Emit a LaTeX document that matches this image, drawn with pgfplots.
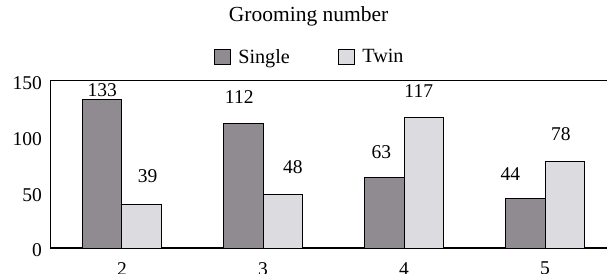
\documentclass[border=0pt]{standalone}
\usepackage{fontspec}
\setmainfont{Liberation Serif}
\usepackage{pgfplots}
\usepackage{pgfplotstable}
\pgfplotsset{compat=1.18}
\definecolor{single}{RGB}{143,139,145}
\definecolor{twin}{RGB}{220,219,224}
\pgfplotstableread{
x y dx dy
0 133 0 10
1 112 -4 26
2 63 -3 26
3 44 -15 25
}\single
\pgfplotstableread{
x y dx dy
0 39 6 28
1 48 10 27
2 117 -5 26
3 78 -4 27
}\twin
\newcommand{\fs}{\fontsize{19.5}{23}\selectfont}
\begin{document}
\begin{tikzpicture}
\begin{axis}[
  scale only axis,
  width=566pt, height=167.3pt,
  xmin=-0.507, xmax=3.507,
  ymin=0, ymax=150,
  ybar=0pt, bar width=39.5pt,
  xtick={0,1,2,3}, xticklabels={2,3,4,5},
  ytick={0,50,100,150},
  major tick length=0pt,
  axis line style={line width=1.3pt},
  /pgf/number format/assume math mode=true,
  tick label style={font=\fs},
  yticklabel style={inner sep=0pt, anchor=east, xshift=-8.5pt, yshift=-2.5pt},
  xticklabel style={inner sep=0pt, anchor=north, yshift=-14pt},
  title={Grooming number},
  title style={font=\fontsize{21.5}{25}\selectfont, at={(0.456,1.351)}, anchor=center, inner sep=0pt},
  legend columns=2,
  legend style={draw=none, fill=none, font=\fontsize{20.2}{24}\selectfont, at={(0.458,1.142)}, anchor=center,
    inner sep=0pt, /tikz/every even column/.append style={column sep=46pt}},
  legend image code/.code={\draw[#1, line width=0.8pt] (0pt,-7.5pt) rectangle (16pt,7.5pt);
    \path[draw=none, fill=none] (0pt,0pt) -- (22pt,0pt);},
  nodes near coords,
  every node near coord/.append style={font=\fs, anchor=center, inner sep=0pt, xshift=\dx, yshift=\dy, text=black},
  visualization depends on={\thisrow{dx}\as\dx},
  visualization depends on={\thisrow{dy}\as\dy},
]
\addplot[draw=black, line width=1pt, fill=single, point meta=explicit] table[x=x, y=y, meta=y] {\single};
\addlegendentry{Single}
\addplot[draw=black, line width=1pt, fill=twin, point meta=explicit] table[x=x, y=y, meta=y] {\twin};
\addlegendentry{Twin}
\end{axis}
\pgfresetboundingbox
\path[use as bounding box] (-50.5pt,-25pt) rectangle (556.5pt,248pt);
\end{tikzpicture}
\end{document}
